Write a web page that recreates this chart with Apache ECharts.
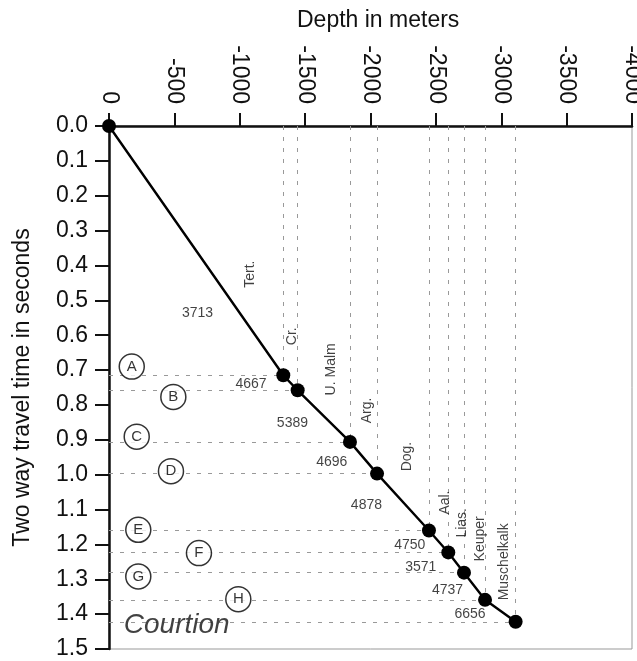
<!DOCTYPE html>
<html>
<head>
<meta charset="utf-8">
<script src="https://cdn.jsdelivr.net/npm/echarts@6/dist/echarts.min.js"></script>
<style>
  html, body { margin: 0; padding: 0; background: #fff; }
  #chart { width: 637px; height: 661px; }
</style>
</head>
<body>
<div id="chart"></div>
<script>
// ===== data (depth in m, two way time in s) =====
const depth = [0, -1333, -1443, -1843, -2050, -2447, -2595, -2715, -2876, -3110]
const twt = [0, 0.715, 0.758, 0.906, 0.997, 1.160, 1.223, 1.281, 1.359, 1.422]

// interval velocities, placed between the picks
const velText = ['3713', '4667', '5389', '4696', '4878', '4750', '3571', '4737', '6656']
const velDepth = [-677, -1086, -1403, -1704, -1969, -2300, -2385, -2589, -2761]
const velTime = [0.538, 0.741, 0.851, 0.964, 1.086, 1.203, 1.266, 1.330, 1.400]

// formation names
const unitText = ['Tert.', 'Cr.', 'U. Malm', 'Arg.', 'Dog.', 'Aal.', 'Lias.', 'Keuper', 'Muschelkalk']
const unitDepth = [-1078, -1397, -1698, -1971, -2277, -2570, -2698, -2837, -3021]
const unitTime = [0.425, 0.603, 0.698, 0.816, 0.948, 1.080, 1.138, 1.184, 1.250]

// circled horizon letters
const letters = ['A', 'B', 'C', 'D', 'E', 'F', 'G', 'H']
const letterDepth = [-174, -492, -212, -474, -224, -688, -224, -989]
const letterTime = [0.690, 0.777, 0.891, 0.990, 1.158, 1.225, 1.292, 1.357]

const siteName = 'Courtion'
const siteDepth = -518
const siteTime = 1.431

const FONT = "'Liberation Sans', Arial, Helvetica, sans-serif"

// dashed guide lines from every pick to both axes
const guides = []
for (let i = 1; i < depth.length; i++) {
  guides.push([{ coord: [0, twt[i]] }, { coord: [depth[i], twt[i]] }])
  guides.push([{ coord: [depth[i], 0] }, { coord: [depth[i], twt[i]] }])
}

function textPoints(xs, ys, texts) {
  return xs.map((x, i) => ({ value: [x, ys[i]], name: texts[i] }))
}

const chart = echarts.init(document.getElementById('chart'))

chart.setOption({
  animation: false,
  title: {
    text: 'Depth in meters',
    left: 297,
    top: 9,
    padding: 0,
    textStyle: { fontFamily: FONT, fontSize: 23, fontWeight: 'normal', color: '#111' },
  },
  grid: {
    left: 109,
    right: 5,
    top: 126,
    bottom: 12,
    show: true,
    borderColor: '#999',
    borderWidth: 1,
    backgroundColor: 'transparent',
    outerBoundsMode: 'none',
  },
  xAxis: {
    type: 'value',
    position: 'top',
    min: -4000,
    max: 0,
    interval: 500,
    inverse: true,
    splitLine: { show: false },
    axisLine: { show: true, onZero: false, lineStyle: { color: '#111', width: 2.5 } },
    axisTick: { show: true, inside: false, length: 13, lineStyle: { color: '#111', width: 2 } },
    axisLabel: {
      rotate: 90,
      margin: 22,
      fontFamily: FONT,
      fontSize: 23,
      color: '#111',
      showMinLabel: true,
      showMaxLabel: true,
      formatter: (v) => String(v),
    },
  },
  yAxis: {
    type: 'value',
    min: 0,
    max: 1.5,
    interval: 0.1,
    inverse: true,
    name: 'Two way travel time in seconds',
    nameLocation: 'middle',
    nameGap: 75,
    nameTextStyle: { fontFamily: FONT, fontSize: 23, color: '#111' },
    splitLine: { show: false },
    axisLine: { show: true, onZero: false, lineStyle: { color: '#111', width: 2.5 } },
    axisTick: { show: true, inside: false, length: 14, lineStyle: { color: '#111', width: 2 } },
    axisLabel: {
      margin: 21,
      fontFamily: FONT,
      fontSize: 23,
      color: '#111',
      formatter: (v) => v.toFixed(1),
    },
  },
  series: [
    {
      // dashed guides
      type: 'line',
      data: [],
      z: 1,
      silent: true,
      markLine: {
        silent: true,
        z: 1,
        symbol: 'none',
        label: { show: false },
        emphasis: { disabled: true },
        lineStyle: { color: '#999', width: 1, type: [4, 7] },
        data: guides,
      },
    },
    {
      // time-depth curve
      type: 'line',
      z: 6,
      data: depth.map((d, i) => [d, twt[i]]),
      symbol: 'circle',
      symbolSize: 14,
      lineStyle: { color: '#000', width: 2.4 },
      itemStyle: { color: '#000' },
    },
    {
      // circled letters
      type: 'scatter',
      z: 10,
      data: textPoints(letterDepth, letterTime, letters),
      symbol: 'circle',
      symbolSize: 25,
      itemStyle: { color: '#fff', borderColor: '#000', borderWidth: 1.5 },
      label: {
        show: true,
        position: 'inside',
        formatter: '{b}',
        fontFamily: FONT,
        fontSize: 15,
        color: '#000',
      },
    },
    {
      // interval velocities
      type: 'scatter',
      z: 10,
      data: textPoints(velDepth, velTime, velText),
      symbolSize: 1,
      itemStyle: { color: 'transparent' },
      label: {
        show: true,
        position: 'inside',
        formatter: '{b}',
        fontFamily: FONT,
        fontSize: 14,
        color: '#111',
      },
    },
    {
      // formation names
      type: 'scatter',
      z: 10,
      data: textPoints(unitDepth, unitTime, unitText),
      symbolSize: 1,
      itemStyle: { color: 'transparent' },
      label: {
        show: true,
        position: 'inside',
        rotate: 90,
        formatter: '{b}',
        fontFamily: FONT,
        fontSize: 14,
        color: '#111',
      },
    },
    {
      // site name
      type: 'scatter',
      z: 10,
      data: [{ value: [siteDepth, siteTime], name: siteName }],
      symbolSize: 1,
      itemStyle: { color: 'transparent' },
      label: {
        show: true,
        position: 'inside',
        formatter: '{b}',
        fontFamily: FONT,
        fontSize: 28,
        fontStyle: 'italic',
        color: '#111',
      },
    },
  ],
})
</script>
</body>
</html>
